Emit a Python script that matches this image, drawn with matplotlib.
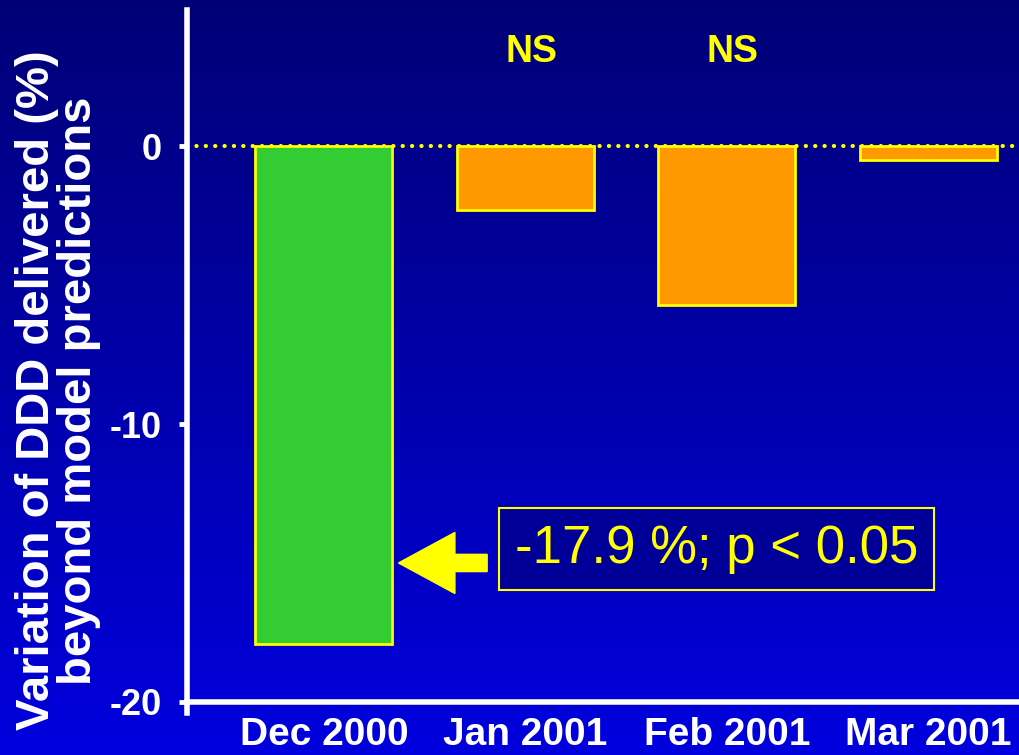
import numpy as np
import matplotlib.pyplot as plt
from matplotlib.colors import LinearSegmentedColormap
from matplotlib.patches import FancyArrow

months = ["Dec 2000", "Jan 2001", "Feb 2001", "Mar 2001"]
variation = [-17.9, -2.3, -5.7, -0.5]
bar_colors = ["#33CC33", "#FF9900", "#FF9900", "#FF9900"]
ns_months = ["Jan 2001", "Feb 2001"]
yticks = [0, -10, -20]

plt.rcParams["font.family"] = ["Liberation Sans", "DejaVu Sans"]
plt.rcParams["axes.unicode_minus"] = False

fig = plt.figure(figsize=(10.19, 7.55), dpi=100)

# slide background: navy at the top fading to bright blue
bg = fig.add_axes([0, 0, 1, 1], zorder=-1)
grad = np.linspace(0, 1, 256).reshape(-1, 1)
cmap = LinearSegmentedColormap.from_list("slide", ["#000076", "#0000DE"])
bg.imshow(grad, aspect="auto", cmap=cmap, extent=[0, 1, 0, 1], origin="upper")
bg.axis("off")

ax = fig.add_axes([0.1835, 0.0556, 0.8165, 0.9312])
ax.set_facecolor("none")

x = np.arange(len(months))
ax.axhline(0, color="#FFFF00", ls=(0, (0.05, 2.2)), lw=3,
           dash_capstyle="round", zorder=1)
ax.bar(x, variation, width=0.68, color=bar_colors, edgecolor="#FFFF00",
       linewidth=2, zorder=2)

for m in ns_months:
    i = months.index(m)
    ax.text(i + 0.03, 3.38, "NS", color="#FFFF00", fontsize=27,
            fontweight="bold", ha="center", va="center")

# callout for the December drop
ax.add_patch(FancyArrow(0.81, -15.0, -0.44, 0, width=0.62, head_width=2.2,
                        head_length=0.28, length_includes_head=True,
                        color="#FFFF00", zorder=3))
ax.text(1.95, -14.5, "%.1f %%; p < 0.05" % variation[0], color="#FFFF00",
        fontsize=38, ha="center", va="center",
        bbox=dict(boxstyle="square,pad=0.3", facecolor="#000099",
                  edgecolor="#FFFF00", linewidth=1.5))

ax.set_xlim(-0.68, 3.45)
ax.set_ylim(-20.4, 4.9)
ax.set_xticks(x)
ax.set_xticklabels(months)
ax.set_yticks(yticks)

for side in ["top", "right"]:
    ax.spines[side].set_visible(False)
ax.spines["bottom"].set_position(("data", -20))
for side in ["left", "bottom"]:
    ax.spines[side].set_color("white")
    ax.spines[side].set_linewidth(4)

ax.tick_params(axis="y", colors="white", length=6, width=3.5, pad=12,
               labelsize=26)
ax.tick_params(axis="x", colors="white", length=0, pad=11, labelsize=28)
for lab in ax.get_xticklabels() + ax.get_yticklabels():
    lab.set_fontweight("bold")

fig.text(0.057, 0.483, "Variation of DDD delivered (%)\nbeyond model predictions",
         rotation=90, color="white", fontsize=34, fontweight="bold",
         ha="center", va="center", linespacing=0.95)

fig.savefig("out.png", dpi=100)
